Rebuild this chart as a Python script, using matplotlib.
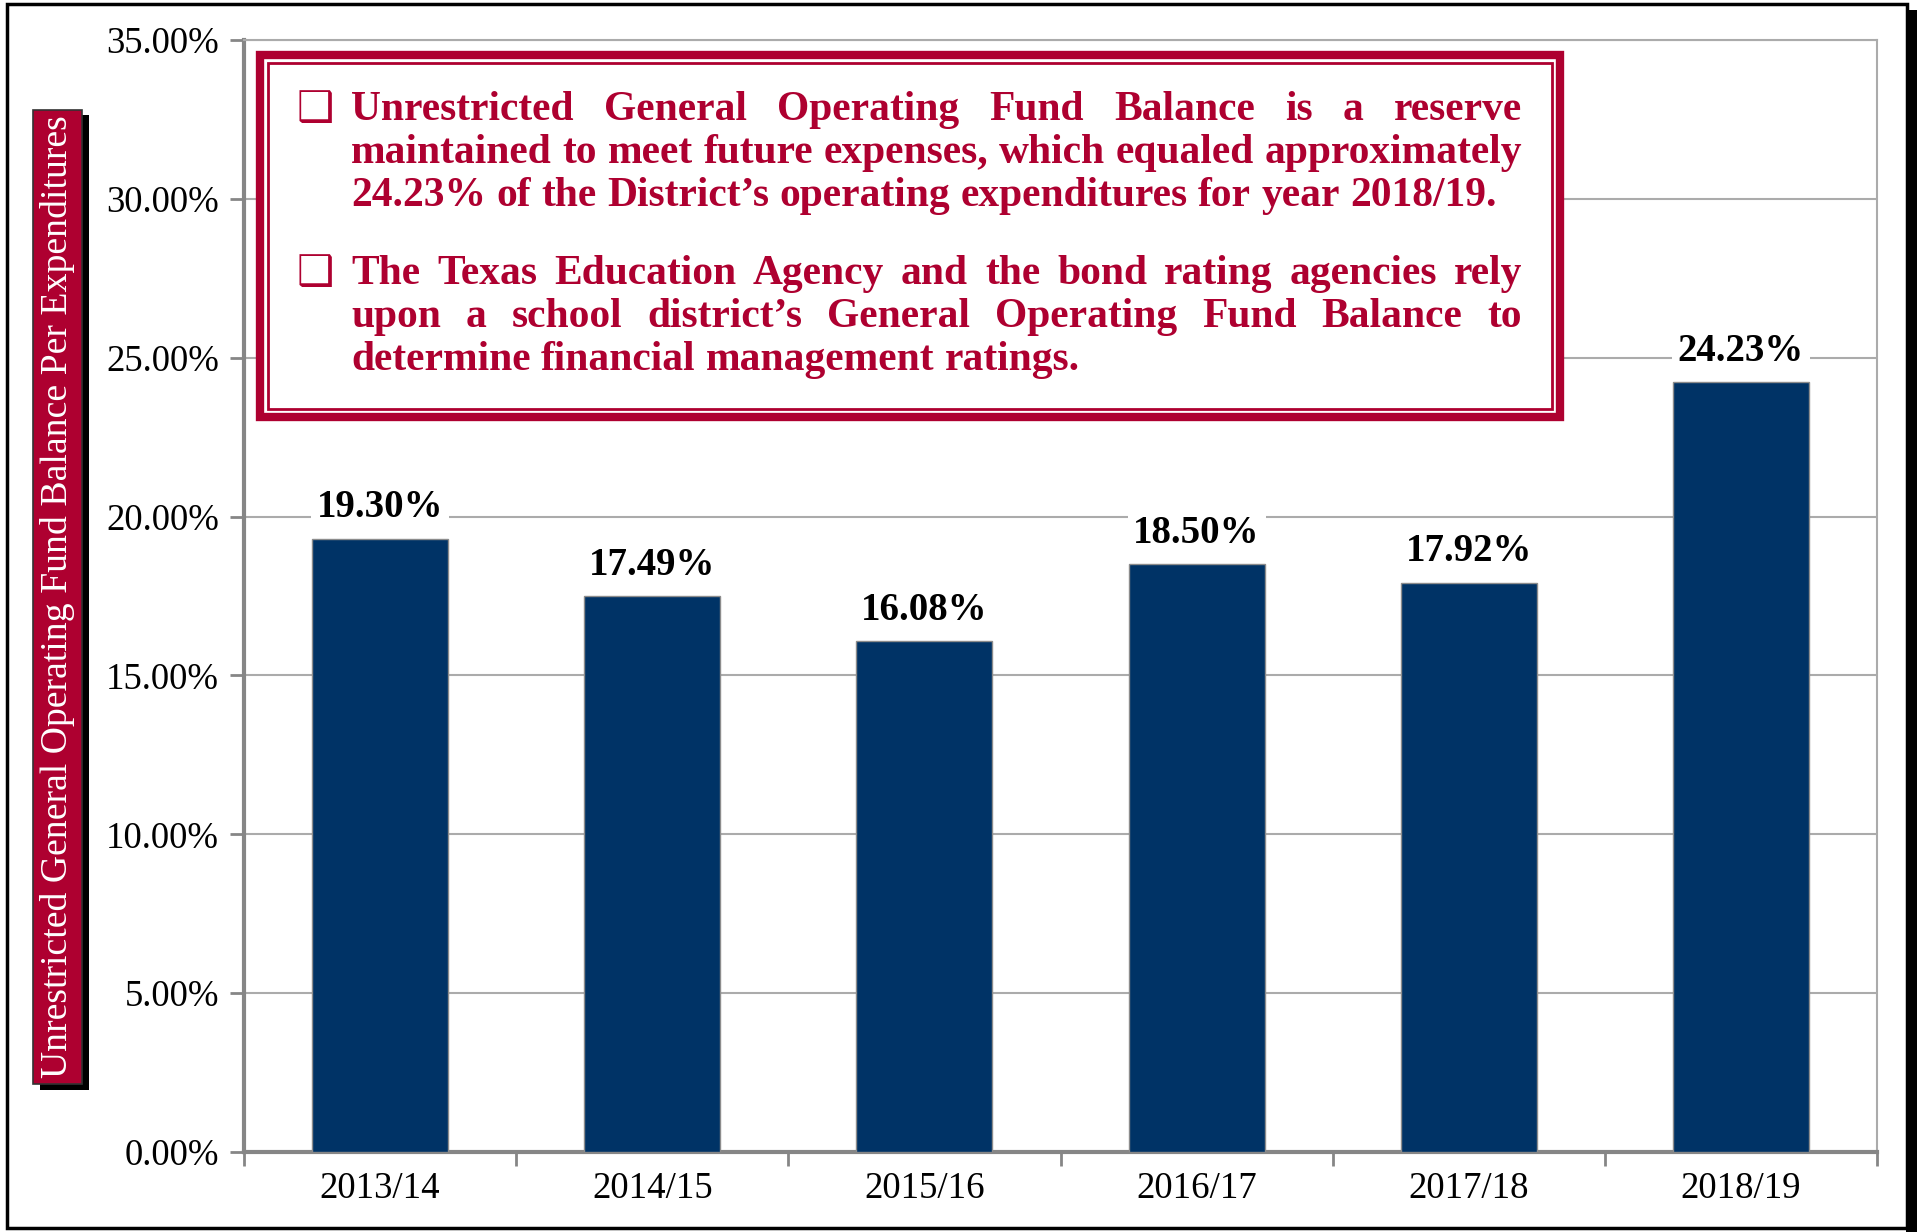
import matplotlib
matplotlib.use('Agg')
import matplotlib.pyplot as plt
from matplotlib.patches import Rectangle
from matplotlib.ticker import FixedLocator

# ---------------- data ----------------
categories = ['2013/14', '2014/15', '2015/16', '2016/17', '2017/18', '2018/19']
values = [19.30, 17.49, 16.08, 18.50, 17.92, 24.23]
ytick_values = [0, 5, 10, 15, 20, 25, 30, 35]
ylabel_text = "Unrestricted General Operating Fund Balance Per Expenditures"
para1_lines = [
    "Unrestricted General Operating Fund Balance is a reserve",
    "maintained to meet future expenses, which equaled approximately",
    "24.23% of the District\u2019s operating expenditures for year 2018/19.",
]
para2_lines = [
    "The Texas Education Agency and the bond rating agencies rely",
    "upon a school district\u2019s General Operating Fund Balance to",
    "determine financial management ratings.",
]

# ---------------- style ----------------
CRIMSON = '#AE0030'
NAVY = '#003366'
SERIF = ['Liberation Serif', 'DejaVu Serif']

W, H = 1917, 1232
fig = plt.figure(figsize=(W / 100, H / 100), dpi=100)
fig.patch.set_facecolor('white')


def fx(x):
    return x / W


def fy(y):
    return 1 - y / H


def rect(x0, y0, x1, y1, **kw):
    r = Rectangle((fx(x0), fy(y1)), (x1 - x0) / W, (y1 - y0) / H,
                  transform=fig.transFigure, **kw)
    fig.add_artist(r)
    return r


# outer frame with shadow on right
rect(1906, 10, 1917, 1232, facecolor='black', edgecolor='none', zorder=-2)
rect(7, 4, 1907, 1228, facecolor='white', edgecolor='black', linewidth=2.5, zorder=-1)

# ---------------- axes ----------------
ax_l, ax_r, ax_t, ax_b = 244, 1877, 40, 1152
ax = fig.add_axes([fx(ax_l), fy(ax_b), (ax_r - ax_l) / W, (ax_b - ax_t) / H])
ax.set_facecolor('white')
x = list(range(len(categories)))
ax.bar(x, values, width=0.5, color=NAVY, edgecolor='#8C8C8C', linewidth=1.0, zorder=3)
ax.set_xlim(-0.5, len(categories) - 0.5)
ax.set_ylim(0, 35)
ax.set_yticks(ytick_values)
ax.set_yticklabels([f"{v:.2f}%" for v in ytick_values])
ax.set_xticks(x)
ax.set_xticklabels(categories)
ax.xaxis.set_minor_locator(FixedLocator([i - 0.5 for i in range(len(categories) + 1)]))
ax.tick_params(axis='x', which='major', length=0, pad=14)
ax.tick_params(axis='x', which='minor', length=10, width=2, color='#868686', direction='out')
ax.tick_params(axis='y', length=10, width=2, color='#868686', direction='out', pad=8)
for lab in ax.get_xticklabels() + ax.get_yticklabels():
    lab.set_fontfamily(SERIF)
    lab.set_fontsize(26.5)
    lab.set_color('black')
ax.yaxis.grid(True, color='#ABABAB', linewidth=1.5, zorder=0)
ax.set_axisbelow(True)
for s in ['left', 'bottom']:
    ax.spines[s].set_color('#868686')
    ax.spines[s].set_linewidth(3)
for s in ['top', 'right']:
    ax.spines[s].set_color('#ABABAB')
    ax.spines[s].set_linewidth(1.5)

for i, v in enumerate(values):
    ax.annotate(f"{v:.2f}%", (i, v), xytext=(0, 9), textcoords='offset points',
                ha='center', va='bottom', fontsize=28, fontweight='bold',
                family=SERIF, color='black', zorder=4,
                bbox=dict(boxstyle='square,pad=0.15', facecolor='white', edgecolor='none'))

# ---------------- y label box ----------------
rect(40, 115, 89, 1090, facecolor='black', edgecolor='none', zorder=4)
rect(33, 110, 82, 1084, facecolor=CRIMSON, edgecolor='#333333', linewidth=1.2, zorder=5)

renderer = fig.canvas.get_renderer()


def text_width(s, size, family=SERIF, weight='bold'):
    t = fig.text(0, 0, s, fontsize=size, family=family, fontweight=weight)
    w = t.get_window_extent(renderer).width
    t.remove()
    return w


ylab_size = 20 * 962 / text_width(ylabel_text, 20, weight='normal')
fig.text(fx(58), fy(597), ylabel_text, rotation=90, ha='center', va='center',
         fontsize=ylab_size, family=SERIF, fontweight='normal', color='white', zorder=6)

# ---------------- text box ----------------
rect(260, 55, 1560, 417, facecolor='white', edgecolor=CRIMSON, linewidth=6, zorder=7)
rect(268, 63, 1552, 409, facecolor='none', edgecolor=CRIMSON, linewidth=2, zorder=8)

txt_left, txt_right = 351, 1522
box_size = 20 * (txt_right - txt_left) / text_width(para1_lines[1], 20)
space_w = text_width("a a", box_size) - text_width("aa", box_size)


def draw_line(line, ybase, justify):
    words = line.split(' ')
    widths = [text_width(w_, box_size) for w_ in words]
    if justify and len(words) > 1:
        gap = ((txt_right - txt_left) - sum(widths)) / (len(words) - 1)
    else:
        gap = space_w
    xpos = txt_left
    for w_, wd in zip(words, widths):
        fig.text(fx(xpos), fy(ybase), w_, ha='left', va='baseline', fontsize=box_size,
                 family=SERIF, fontweight='bold', color=CRIMSON, zorder=9)
        xpos += wd + gap


baselines1 = [120, 163, 206]
baselines2 = [284, 327, 370]
for para, bases in [(para1_lines, baselines1), (para2_lines, baselines2)]:
    for k, (line, yb) in enumerate(zip(para, bases)):
        draw_line(line, yb, justify=(k < len(para) - 1))
    fig.text(fx(297), fy(bases[0] + 1), "\u2751", ha='left', va='baseline', fontsize=30,
             family=['DejaVu Sans'], color=CRIMSON, zorder=9)

fig.savefig('out.png', dpi=100, facecolor='white')
